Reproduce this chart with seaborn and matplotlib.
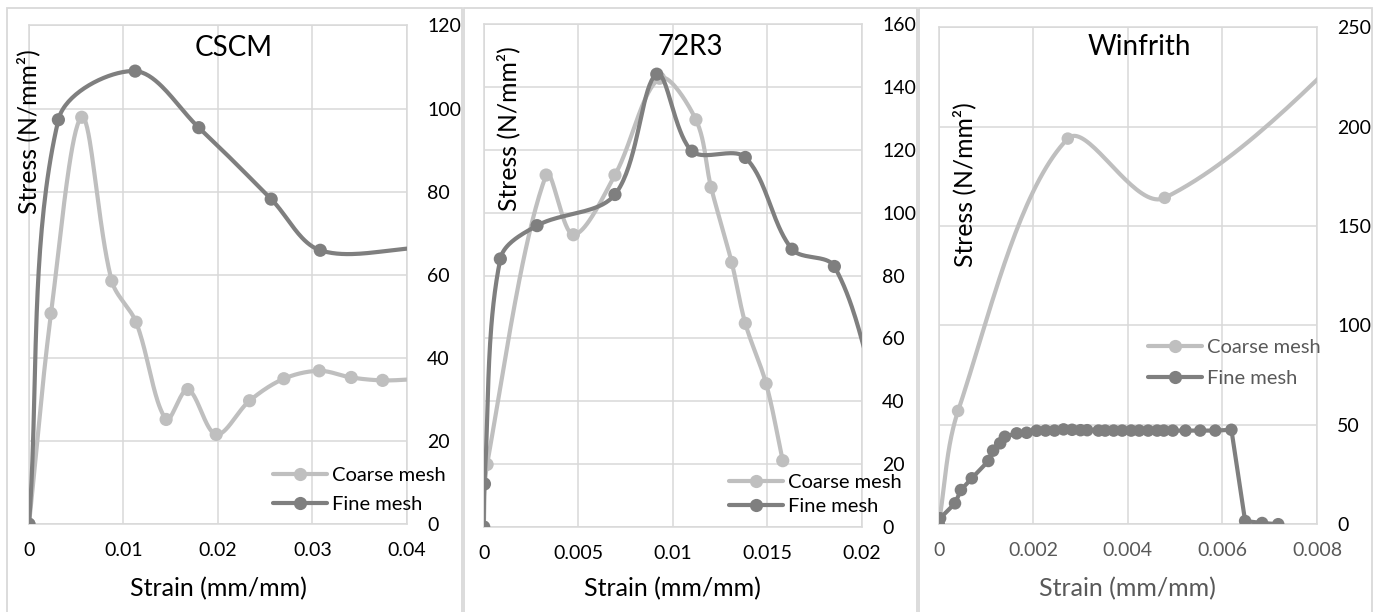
import numpy as np
import pandas as pd
import matplotlib
matplotlib.use("Agg")
import matplotlib.pyplot as plt
import seaborn as sns
from matplotlib.lines import Line2D
from matplotlib.patches import Rectangle

W, H = 1383, 612
sns.set_style("white")
plt.rcParams['font.family'] = ['Lato', 'DejaVu Sans']

# ---------------- data ----------------
series_names = ["Coarse mesh", "Fine mesh"]
titles = ["CSCM", "72R3", "Winfrith"]

# CSCM
cscm_coarse_x = [0, 0.00233, 0.00558, 0.00876, 0.01133, 0.01451, 0.01681, 0.01981,
                 0.02334, 0.02697, 0.03071, 0.0341, 0.03742, 0.0410]
cscm_coarse_y = [0, 50.7, 97.9, 58.5, 48.6, 25.2, 32.4, 21.6, 29.7, 35.0, 36.9, 35.3, 34.6, 34.9]
cscm_fine_x = [0, 0.00311, 0.01123, 0.01797, 0.02563, 0.03082, 0.0415]
cscm_fine_y = [0, 97.3, 109.0, 95.4, 78.2, 65.9, 66.5]

# 72R3
r72_coarse_x = [0, 0.00018, 0.0033, 0.00474, 0.00694, 0.0093, 0.01122, 0.01202,
                0.01311, 0.01383, 0.01493, 0.01581]
r72_coarse_y = [0, 19.9, 112.0, 93.0, 112.0, 142.8, 129.6, 108.1, 84.2, 64.8, 45.6, 21.1]
r72_fine_x = [0, 0.00004, 0.00088, 0.00282, 0.00694, 0.00915, 0.01101, 0.01383,
              0.0163, 0.01854, 0.0210]
r72_fine_y = [0, 13.7, 85.3, 95.9, 105.8, 144.1, 119.6, 117.6, 88.4, 82.9, 38.0]

# Winfrith
win_coarse_x = [0, 0.00041, 0.00273, 0.00478, 0.0110]
win_coarse_y = [0, 57.0, 194.0, 164.2, 292.0]
win_fine_x = [0, 0.00003, 0.000345, 0.00047, 0.0007, 0.00105, 0.00115, 0.0013, 0.0014,
              0.00165, 0.00186, 0.00207, 0.00226, 0.00245, 0.00264, 0.00282, 0.003,
              0.00314, 0.00338, 0.00352, 0.0037, 0.00388, 0.00407, 0.00424, 0.00443,
              0.00462, 0.00476, 0.00495, 0.00522, 0.00553, 0.00585, 0.00619, 0.00648,
              0.00684, 0.00718]
win_fine_y = [0, 3.0, 10.5, 17.2, 23.1, 31.8, 37.0, 40.7, 44.0, 45.7, 46.0, 47.0, 47.1,
              47.1, 47.7, 47.5, 47.3, 47.3, 47.1, 47.1, 47.1, 47.1, 47.1, 47.1, 47.1,
              47.1, 47.1, 47.1, 47.1, 47.1, 47.1, 47.5, 1.6, 0.6, 0.0]

cscm_xticks = [0, 0.01, 0.02, 0.03, 0.04]
cscm_xlabels = ["0", "0.01", "0.02", "0.03", "0.04"]
cscm_yticks = [0, 20, 40, 60, 80, 100, 120]
r72_xticks = [0, 0.005, 0.01, 0.015, 0.02]
r72_xlabels = ["0", "0.005", "0.01", "0.015", "0.02"]
r72_yticks = [0, 20, 40, 60, 80, 100, 120, 140, 160]
win_xticks = [0, 0.002, 0.004, 0.006, 0.008]
win_xlabels = ["0", "0.002", "0.004", "0.006", "0.008"]
win_yticks = [0, 50, 100, 150, 200, 250]

COARSE = "#BFBFBF"
FINE = "#7F7F7F"
GRID = "#D9D9D9"


def smooth(xs, ys, sx, sy, n=40):
    """Excel-like smoothed line: Bezier segments with chord-weighted tangents,
    computed in screen-proportional units (sx, sy = pixels per data unit)."""
    P = np.column_stack([np.asarray(xs, float) * sx, np.asarray(ys, float) * sy])
    m = len(P)
    Pe = np.vstack([P[0], P, P[-1]])
    seg = np.linalg.norm(np.diff(Pe, axis=0), axis=1)
    t = np.linspace(0, 1, n)[:, None]
    out = []
    for i in range(m - 1):
        p0, p3 = P[i], P[i + 1]
        L = seg[i + 1]
        d0 = Pe[i + 2] - Pe[i]
        den0 = seg[i] + seg[i + 1]
        c1 = p0 + d0 * (L / (3 * den0) if den0 > 0 else 0)
        d1 = Pe[i + 3] - Pe[i + 1]
        den1 = seg[i + 1] + seg[i + 2]
        c2 = p3 - d1 * (L / (3 * den1) if den1 > 0 else 0)
        s = ((1 - t) ** 3) * p0 + 3 * ((1 - t) ** 2) * t * c1 + 3 * (1 - t) * t ** 2 * c2 + t ** 3 * p3
        out.append(s if i == 0 else s[1:])
    out = np.vstack(out)
    return pd.DataFrame({"x": out[:, 0] / sx, "y": out[:, 1] / sy})


fig = plt.figure(figsize=(W / 100, H / 100), dpi=100)

# panel frames
for (x0, x1) in [(7, 462), (464, 917), (919, 1372)]:
    fig.patches.append(Rectangle((x0 / W, -0.05), (x1 - x0) / W, 1.05 - 8 / H,
                                 transform=fig.transFigure, fill=False,
                                 edgecolor=GRID, lw=1.3))

panels = [
    dict(box=(29, 407, 25.4, 524.2), xlim=0.04, ylim=120,
         coarse=(cscm_coarse_x, cscm_coarse_y, True), fine=(cscm_fine_x, cscm_fine_y, True),
         xt=cscm_xticks, xl=cscm_xlabels, yt=cscm_yticks,
         title=(234, 48), ylab=(28, 132), leg=(273, 490), legsp=0.55,
         xcol="#000000", txtcol="#000000", ms=9.5),
    dict(box=(483.7, 862, 24.2, 527), xlim=0.02, ylim=160,
         coarse=(r72_coarse_x, r72_coarse_y, True), fine=(r72_fine_x, r72_fine_y, True),
         xt=r72_xticks, xl=r72_xlabels, yt=r72_yticks,
         title=(690, 47), ylab=(508, 129), leg=(729, 494.5), legsp=0.35,
         xcol="#000000", txtcol="#000000", ms=9.5),
    dict(box=(938.7, 1317, 27.3, 524.2), xlim=0.008, ylim=250,
         coarse=(win_coarse_x, win_coarse_y, True), fine=(win_fine_x, win_fine_y, False),
         xt=win_xticks, xl=win_xlabels, yt=win_yticks,
         title=(1139, 47), ylab=(964, 185), leg=(1148, 363), legsp=0.65,
         xcol="#595959", txtcol="#595959", ms=9.0),
]

for i, p in enumerate(panels):
    l, r, t, b = p["box"]
    ax = fig.add_axes([l / W, 1 - b / H, (r - l) / W, (b - t) / H])
    ax.set_xlim(0, p["xlim"])
    ax.set_ylim(0, p["ylim"])
    ax.set_xticks(p["xt"], p["xl"])
    ax.set_yticks(p["yt"], [str(v) for v in p["yt"]])
    ax.yaxis.tick_right()
    ax.tick_params(axis="y", length=0, pad=14.4, labelsize=14, labelcolor="#000000")
    ax.tick_params(axis="x", length=0, pad=13, labelsize=14, labelcolor=p["xcol"])
    ax.grid(True, color=GRID, lw=1.1)
    for s in ax.spines.values():
        s.set_color(GRID)
        s.set_linewidth(1.1)

    sx = (r - l) / p["xlim"]
    sy = (b - t) / p["ylim"]
    z = 3
    for name, col in zip(series_names, [COARSE, FINE]):
        xs, ys, sm = p["coarse"] if name == "Coarse mesh" else p["fine"]
        df = smooth(xs, ys, sx, sy) if sm else pd.DataFrame({"x": xs, "y": ys})
        sns.lineplot(data=df, x="x", y="y", sort=False, estimator=None, color=col,
                     lw=3.0, ax=ax, zorder=z)
        sns.scatterplot(x=xs, y=ys, color=col, s=p["ms"] ** 2, edgecolor="none",
                        linewidth=0, ax=ax, zorder=z + 1)
        z += 2
    ax.set_xlabel("")
    ax.set_ylabel("")

    handles = [Line2D([], [], color=c, lw=3.0, marker="o", ms=9.5, markeredgewidth=0)
               for c in [COARSE, FINE]]
    lg = ax.legend(handles, series_names, loc="center left",
                   bbox_to_anchor=(p["leg"][0] / W, 1 - p["leg"][1] / H),
                   bbox_transform=fig.transFigure, frameon=False, fontsize=14.5,
                   handlelength=2.7, handletextpad=0.25, labelspacing=p["legsp"],
                   borderpad=0, borderaxespad=0)
    for tx in lg.get_texts():
        tx.set_color(p["txtcol"])

    fig.text(p["title"][0] / W, 1 - p["title"][1] / H, titles[i], ha="center",
             va="center", fontsize=20, color="#000000")
    fig.text(p["ylab"][0] / W, 1 - p["ylab"][1] / H, "Stress (N/mm²)", rotation=90,
             ha="center", va="center", fontsize=17.8, color="#000000")
    fig.text(((l + r) / 2) / W, 1 - 589 / H, "Strain (mm/mm)", ha="center",
             va="center", fontsize=18, color=p["xcol"])

fig.savefig("out.png", dpi=100)
